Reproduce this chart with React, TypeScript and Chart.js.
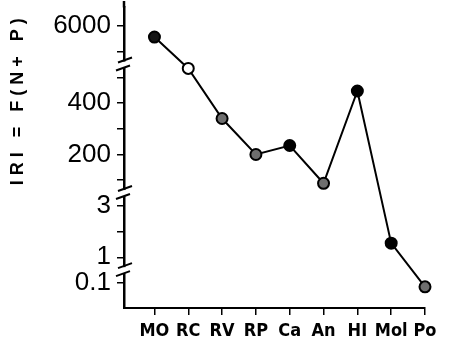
import { useEffect, useRef } from 'react';
import { Chart, registerables } from 'chart.js';

Chart.register(...registerables);

const categories = ['MO', 'RC', 'RV', 'RP', 'Ca', 'An', 'HI', 'Mol', 'Po'];
const iriValues = [5570, 535, 340, 200, 235, 88, 447, 1.55, 0.085];
const pointFills = ['#151515', '#ffffff', '#6e6e6e', '#6e6e6e', '#000000', '#6e6e6e', '#000000', '#000000', '#6e6e6e'];
const yLabelValues = [0.1, 1, 3, 200, 400, 6000];
const yAxisTitle = 'IRI = F(N+ P)';

// Broken y axis: every segment is linear, position = offset + value / unit
// for values from its lower bound up to the next segment's lower bound.
const segLower = [0, 0.5, 10, 1000];
const segOffset = [-1, 0, 3, 4];
const segUnit = [0.1, 1, 100, 1000];
const breakPositions = [0.5, 3.5, 8.5];

function toAxis(v: number): number {
  let i = 0;
  for (let k = 0; k < segLower.length; k++) if (v >= segLower[k]) i = k;
  return segOffset[i] + v / segUnit[i];
}

function axisLabel(u: number): string {
  const v = yLabelValues.find((val) => Math.abs(toAxis(val) - u) < 1e-6);
  return v === undefined ? '' : String(v);
}

// Cuts the y axis line at each break, adds the slanted break strokes and
// carries the axis line up to the top edge.
const axisBreakPlugin = {
  id: 'axisBreaks',
  afterDraw(chart: any) {
    const { ctx, chartArea } = chart;
    const yScale = chart.scales.y;
    const x = chartArea.left;
    ctx.save();
    ctx.strokeStyle = '#000';
    ctx.lineWidth = 2.5;
    ctx.beginPath();
    ctx.moveTo(x, chartArea.top);
    ctx.lineTo(x, 1);
    ctx.stroke();
    for (const b of breakPositions) {
      const yc = yScale.getPixelForValue(b);
      ctx.fillStyle = '#fff';
      ctx.fillRect(x - 3, yc - 3, 6, 6);
      ctx.lineWidth = 2;
      ctx.beginPath();
      ctx.moveTo(x - 6, yc - 2);
      ctx.lineTo(x + 8, yc - 7);
      ctx.moveTo(x - 8, yc + 6);
      ctx.lineTo(x + 6, yc + 1);
      ctx.stroke();
    }
    ctx.restore();
  },
};

const axisTitlePlugin = {
  id: 'axisTitle',
  afterDraw(chart: any) {
    const { ctx } = chart;
    const yScale = chart.scales.y;
    ctx.save();
    ctx.translate(18, yScale.getPixelForValue(7.15));
    ctx.rotate(-Math.PI / 2);
    ctx.font = 'bold 18px "Liberation Sans", Arial, sans-serif';
    ctx.letterSpacing = '5px';
    ctx.fillStyle = '#000';
    ctx.textAlign = 'center';
    ctx.textBaseline = 'middle';
    ctx.fillText(yAxisTitle, 0, 0);
    ctx.restore();
  },
};

export default function App() {
  const canvasRef = useRef<HTMLCanvasElement>(null);

  useEffect(() => {
    document.body.style.margin = '0';
    const chart = new Chart(canvasRef.current!, {
      type: 'line',
      data: {
        datasets: [
          {
            data: iriValues.map((v, i) => ({ x: i, y: toAxis(v) })),
            borderColor: '#000',
            borderWidth: 2,
            pointRadius: 5.5,
            pointBackgroundColor: pointFills,
            pointBorderColor: '#000',
            pointBorderWidth: 2,
            tension: 0,
            clip: false,
          } as any,
        ],
      },
      options: {
        responsive: false,
        animation: false,
        devicePixelRatio: 1,
        layout: { padding: { top: 0, right: 25, left: 0, bottom: 0 } },
        plugins: { legend: { display: false }, tooltip: { enabled: false } },
        scales: {
          x: {
            type: 'linear',
            min: -0.9,
            max: 8,
            afterBuildTicks: (s: any) => {
              s.ticks = categories.map((_, i) => ({ value: i }));
            },
            afterFit: (s: any) => {
              s.height = 42;
              s.paddingLeft = 0;
              s.paddingRight = 0;
            },
            ticks: {
              autoSkip: false,
              maxRotation: 0,
              color: '#000',
              padding: 6,
              font: {
                family: "'Liberation Sans Narrow', 'DejaVu Sans Condensed', 'Liberation Sans', Arial, sans-serif",
                weight: 'bold',
                size: 18,
              },
              callback: (_v: any, i: number) => categories[i],
            },
            grid: { drawOnChartArea: false, tickLength: 7, color: '#000', lineWidth: 1.5 },
            border: { color: '#000', width: 2 },
          },
          y: {
            type: 'linear',
            min: -0.973,
            max: 10.72,
            afterBuildTicks: (s: any) => {
              s.ticks = Array.from({ length: 11 }, (_, i) => ({ value: i }));
            },
            afterFit: (s: any) => {
              s.width = 124;
              s.paddingTop = 0;
              s.paddingBottom = 0;
            },
            ticks: {
              autoSkip: false,
              color: '#000',
              padding: 6,
              font: { family: "'Liberation Sans', Arial, sans-serif", size: 26 },
              callback: (v: any) => axisLabel(Number(v)),
            },
            grid: { drawOnChartArea: false, tickLength: 7, color: '#000', lineWidth: 1.5 },
            border: { color: '#000', width: 2.5 },
          },
        },
      },
      plugins: [axisBreakPlugin, axisTitlePlugin],
    });
    return () => chart.destroy();
  }, []);

  return <canvas ref={canvasRef} width={450} height={350} style={{ display: 'block' }} />;
}
